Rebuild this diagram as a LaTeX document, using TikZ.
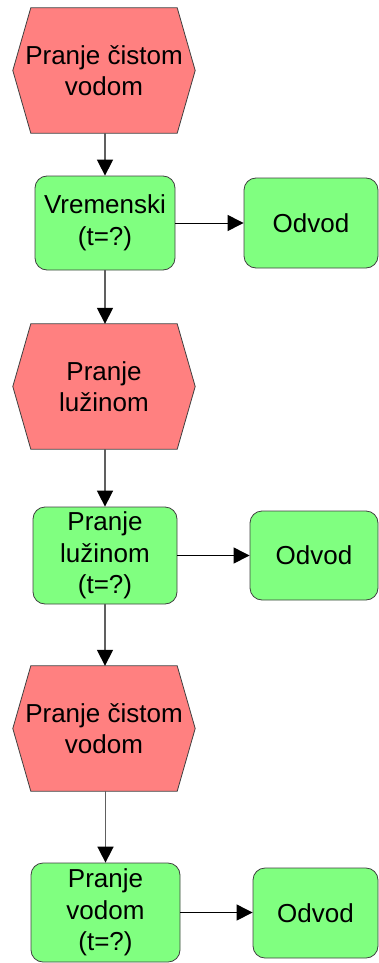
\documentclass[tikz,border=0pt]{standalone}
\usepackage{fontspec}
\setmainfont{Liberation Sans}
\usetikzlibrary{arrows.meta,backgrounds}
\definecolor{hexred}{HTML}{FF8080}
\definecolor{boxgreen}{HTML}{80FF80}
\definecolor{edgegray}{HTML}{404040}
\definecolor{linegray}{HTML}{606060}
\tikzset{
  x=1pt,y=-1pt,
  txt/.style={font=\fontsize{26}{31.5}\selectfont, align=center, inner sep=0pt},
  hexnode/.style={txt, minimum width=182pt, minimum height=125pt},
  hexshape/.style={fill=hexred, draw=edgegray, line width=0.8pt},
  gbox/.style={txt, fill=boxgreen, draw=edgegray, line width=0.8pt, rounded corners=12pt},
  varrow/.style={draw=linegray, line width=1.6pt, -{Triangle[length=16pt,width=16pt,color=black]}},
  harrow/.style={draw=black, line width=1pt, -{Triangle[length=16pt,width=16pt,color=black]}}
}
\newcommand{\hexbg}[1]{%
  \begin{pgfonlayer}{background}
  \path[hexshape] (#1.west) -- ([xshift=18pt]#1.north west) -- ([xshift=-18pt]#1.north east) -- (#1.east) -- ([xshift=-18pt]#1.south east) -- ([xshift=18pt]#1.south west) -- cycle;
  \end{pgfonlayer}}
\begin{document}
\begin{tikzpicture}
\useasboundingbox (0,0) rectangle (379,963);
\node[hexnode] (h1) at (104,70.5) {Pranje čistom\\vodom};
\hexbg{h1}
\node[gbox, minimum width=140pt, minimum height=94pt] (g1) at (105,223) {Vremenski\\(t=?)};
\node[gbox, minimum width=134pt, minimum height=90pt] (o1) at (311,223) {Odvod};
\node[hexnode] (h2) at (104,386.5) {Pranje\\lužinom};
\hexbg{h2}
\node[gbox, minimum width=144pt, minimum height=97pt] (g2) at (105,555.5) {Pranje\\lužinom\\(t=?)};
\node[gbox, minimum width=128pt, minimum height=89pt] (o2) at (314,555.5) {Odvod};
\node[hexnode] (h3) at (104,728.5) {Pranje čistom\\vodom};
\hexbg{h3}
\node[gbox, minimum width=149pt, minimum height=99pt] (g3) at (105.5,912.5) {Pranje\\vodom\\(t=?)};
\node[gbox, minimum width=125pt, minimum height=90pt] (o3) at (315.5,913) {Odvod};
\draw[varrow] (h1.south -| g1.north) -- (g1.north);
\draw[varrow] (g1.south) -- (g1.south |- h2.north);
\draw[varrow] (h2.south -| g2.north) -- (g2.north);
\draw[varrow] (g2.south) -- (g2.south |- h3.north);
\draw[varrow] (h3.south -| g3.north) -- (g3.north);
\draw[harrow] (g1.east) -- (g1.east -| o1.west);
\draw[harrow] (g2.east) -- (g2.east -| o2.west);
\draw[harrow] (g3.east) -- (g3.east -| o3.west);
\end{tikzpicture}
\end{document}
